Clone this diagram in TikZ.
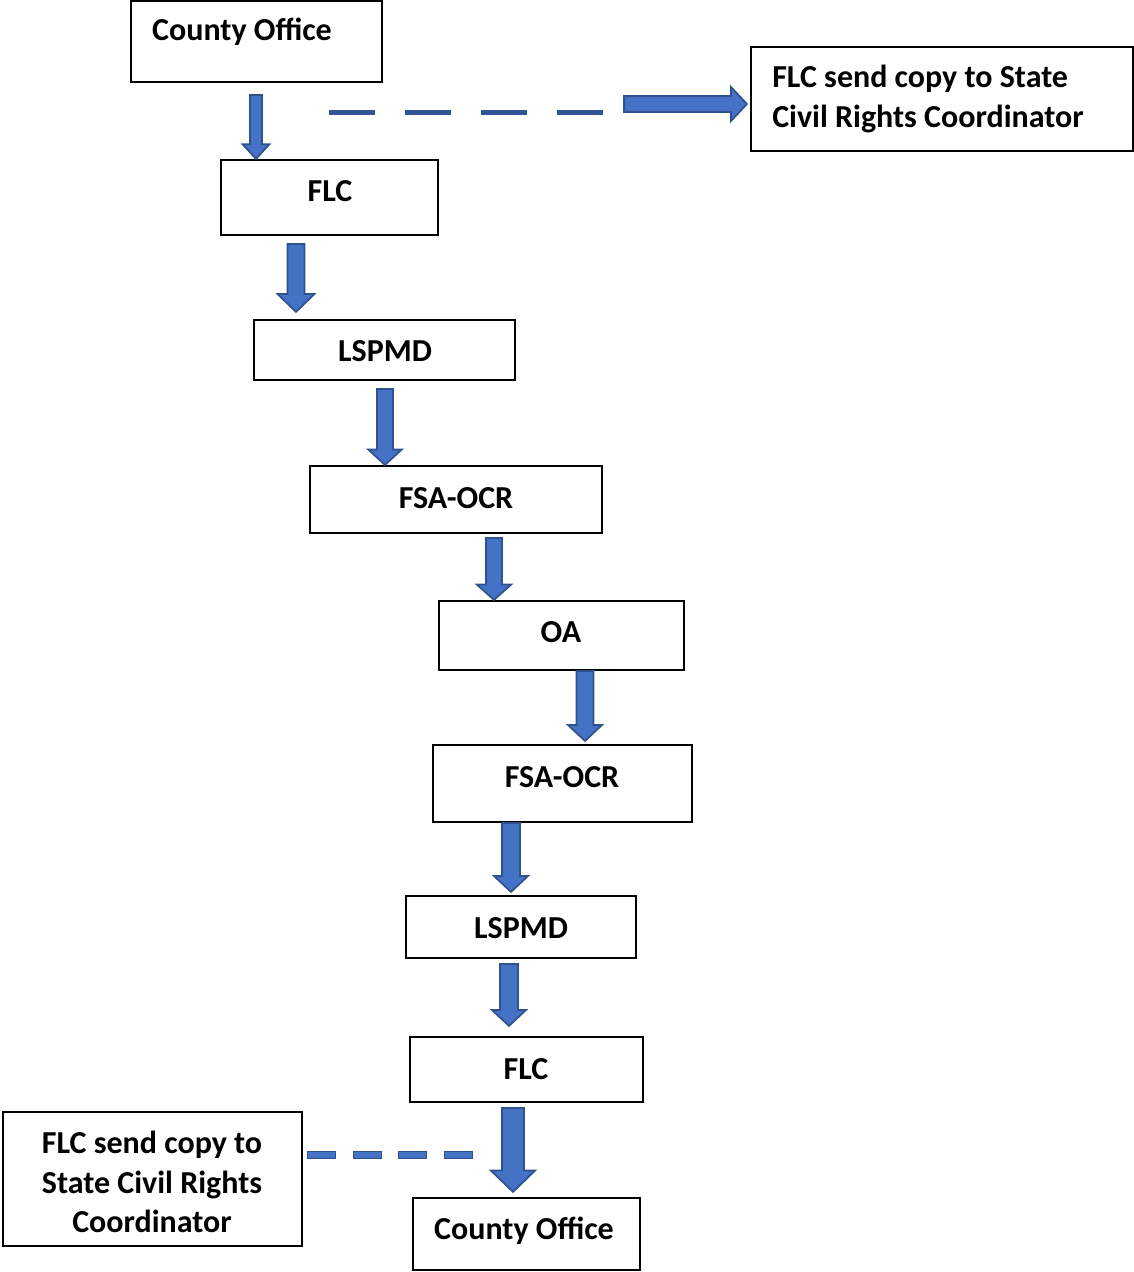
\documentclass[tikz,border=0pt]{standalone}
\usepackage{fontspec}
\setmainfont{Carlito}
\usetikzlibrary{calc}
\definecolor{alight}{HTML}{4472C4}
\definecolor{adark}{HTML}{2F528F}
\definecolor{dashc}{HTML}{2F5597}
\tikzset{
  box/.style={draw=black, line width=1.6pt, fill=white, inner sep=0pt},
  txt/.style={font=\fontsize{24}{29.5}\selectfont\bfseries, inner sep=0pt, align=center},
  blk/.style={fill=alight, draw=adark, line width=1.3pt, line join=miter},
}
% vertical block arrow: #1 start, #2 tip, #3 half shaft, #4 half head, #5 head length (all pt)
\newcommand\barrowv[5]{%
  \draw[blk] let \p1=#1, \p2=#2 in
    (\x1-#3,\y1) -- (\x1+#3,\y1) -- (\x1+#3,\y2+#5) -- (\x1+#4,\y2+#5) -- (\x1,\y2)
    -- (\x1-#4,\y2+#5) -- (\x1-#3,\y2+#5) -- cycle;}
% horizontal block arrow to the right
\newcommand\barrowh[5]{%
  \draw[blk] let \p1=#1, \p2=#2 in
    (\x1,\y1+#3) -- (\x2-#5,\y1+#3) -- (\x2-#5,\y1+#4) -- (\x2,\y1) -- (\x2-#5,\y1-#4)
    -- (\x2-#5,\y1-#3) -- (\x1,\y1-#3) -- cycle;}
\begin{document}
\begin{tikzpicture}[x=0.75pt,y=-0.75pt]
\useasboundingbox (0,0) rectangle (1134,1272);
% boxes
\node[box, minimum width=188pt, minimum height=60.75pt] (co1) at (256.5,41.5) {};
\node[box, minimum width=286.5pt, minimum height=78pt] (rt) at (942,99) {};
\node[box, minimum width=162.75pt, minimum height=56.25pt] (flc1) at (329.5,197.5) {};
\node[box, minimum width=195.75pt, minimum height=45pt] (ls1) at (384.5,350) {};
\node[box, minimum width=219pt, minimum height=50.25pt] (fsa1) at (456,499.5) {};
\node[box, minimum width=183.75pt, minimum height=51.75pt] (oa) at (561.5,635.5) {};
\node[box, minimum width=194.25pt, minimum height=57.75pt] (fsa2) at (562.5,783.5) {};
\node[box, minimum width=172.5pt, minimum height=46.5pt] (ls2) at (521,927) {};
\node[box, minimum width=174.75pt, minimum height=48.75pt] (flc2) at (526.5,1069.5) {};
\node[box, minimum width=170.25pt, minimum height=54pt] (co2) at (526.5,1234) {};
\node[box, minimum width=224.25pt, minimum height=100.5pt] (lf) at (152.5,1179) {};
% texts
\node[txt] (co1t) at (242,32) {County Office};
\node[txt, anchor=west, align=left] (rtt) at (772,99) {FLC send copy to State\\Civil Rights Coordinator};
\node[txt] (flc1t) at (330,191) {FLC};
\node[txt] (ls1t) at (385,351) {LSPMD};
\node[txt] (fsa1t) at (456,498) {FSA-OCR};
\node[txt] (oat) at (561,632) {OA};
\node[txt] (fsa2t) at (562,777) {FSA-OCR};
\node[txt] (ls2t) at (521,928) {LSPMD};
\node[txt] (flc2t) at (526,1069) {FLC};
\node[txt] (co2t) at (524,1231) {County Office};
\node[txt] (lft) at (152,1182) {FLC send copy to\\State Civil Rights\\Coordinator};
% block arrows
\barrowv{($(co1.south -| 256,0)+(0,12)$)}{(flc1.north -| 256,0)}{4.5pt}{10pt}{11pt}
\barrowv{($(flc1.south -| 296,0)+(0,8)$)}{($(ls1.north -| 296,0)+(0,-7)$)}{6.4pt}{13.9pt}{13.5pt}
\barrowv{($(ls1.south -| 385,0)+(0,8)$)}{(fsa1.north -| 385,0)}{6pt}{12.5pt}{11.5pt}
\barrowv{($(fsa1.south -| 494,0)+(0,4)$)}{(oa.north -| 494,0)}{6pt}{12.8pt}{11.5pt}
\barrowv{(oa.south -| 585,0)}{($(fsa2.north -| 585,0)+(0,-3)$)}{6.4pt}{12.8pt}{12pt}
\barrowv{(fsa2.south -| 511,0)}{($(ls2.north -| 511,0)+(0,-3)$)}{6.8pt}{12.8pt}{12pt}
\barrowv{($(ls2.south -| 509,0)+(0,5)$)}{($(flc2.north -| 509,0)+(0,-10)$)}{6.8pt}{12.8pt}{12pt}
\barrowv{($(flc2.south -| 513,0)+(0,5)$)}{($(co2.north -| 513,0)+(0,-5)$)}{8.3pt}{16.5pt}{16pt}
\coordinate (hs) at (624,104);
\barrowh{(hs)}{($(rt.west |- hs)+(-3,0)$)}{6pt}{12.8pt}{12pt}
% dashed connectors
\coordinate (d1s) at (329,112);
\coordinate (d1e) at (605,112);
\draw[dashc, line width=3.75pt, dash pattern=on 34.5pt off 22.5pt] (d1s) -- (d1e);
\coordinate (d2e) at (475,1155);
\draw[adark, line width=6pt, dash pattern=on 21.75pt off 12.4pt] ($(lf.east |- d2e)+(4,0)$) -- (d2e);
\draw[alight, line width=4.2pt, dash pattern=on 20.25pt off 13.9pt, dash phase=-0.75pt] ($(lf.east |- d2e)+(4,0)$) -- (d2e);
\end{tikzpicture}
\end{document}
